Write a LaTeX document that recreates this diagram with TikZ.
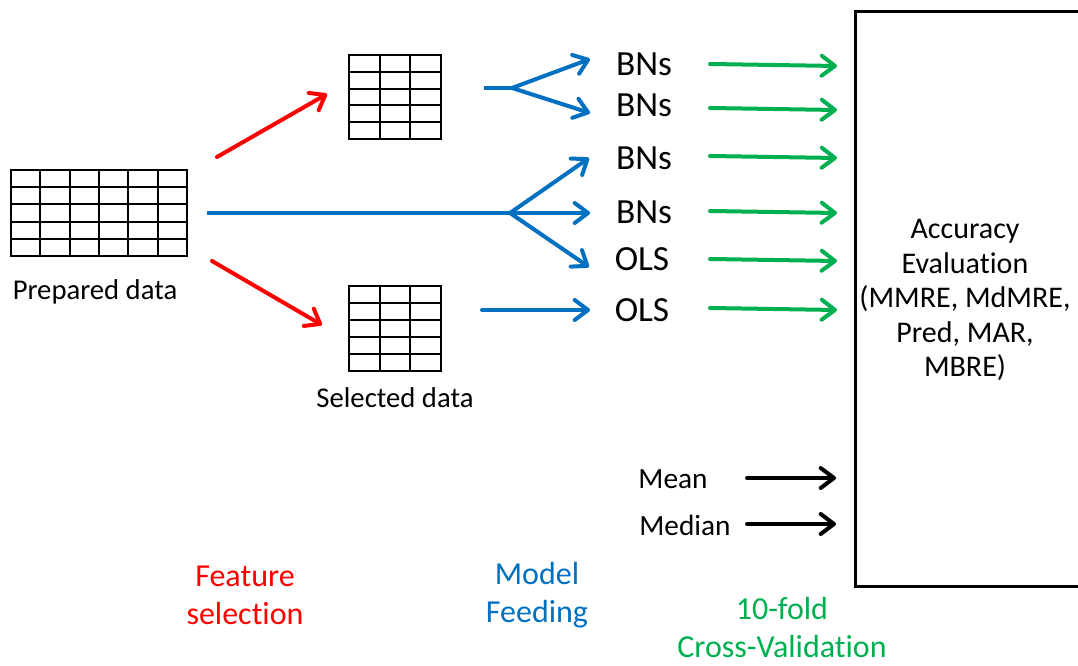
\documentclass[tikz,border=0pt]{standalone}
\usepackage{fontspec}
\setmainfont{Carlito}[Ligatures=NoCommon]
\usetikzlibrary{arrows.meta,calc}
\definecolor{fsred}{RGB}{255,0,0}
\definecolor{mfblue}{RGB}{0,112,192}
\definecolor{cvgreen}{RGB}{0,176,80}

% data tables: outline node plus inner grid lines
\newcommand{\gridlines}[3]{%
  \foreach \i in {1,...,\numexpr#2-1\relax}
    \draw[line width=1.5pt] ($(#1.north west)!\i/#2!(#1.north east)$) -- ($(#1.south west)!\i/#2!(#1.south east)$);
  \foreach \j in {1,...,\numexpr#3-1\relax}
    \draw[line width=1.5pt] ($(#1.north west)!\j/#3!(#1.south west)$) -- ($(#1.north east)!\j/#3!(#1.south east)$);
}

\begin{document}
\begin{tikzpicture}[x=0.75pt,y=-0.75pt,
  tbl/.style={draw, line width=1.5pt, inner sep=0pt, outer sep=0pt},
  flow/.style={line width=3pt, line cap=round, line join=round,
    -{Straight Barb[length=10pt,width=15pt,round]}},
  feat/.style={flow, color=fsred},
  feed/.style={flow, color=mfblue},
  feedline/.style={line width=3pt, color=mfblue},
  cv/.style={flow, color=cvgreen},
  stat/.style={flow, color=black},
  model/.style={font=\fontsize{26.5}{30}\selectfont, inner sep=0pt},
  caption/.style={font=\fontsize{21.5}{26}\selectfont, inner sep=0pt},
  phase/.style={font=\fontsize{24}{28.5}\selectfont, align=center, inner sep=0pt},
  statlbl/.style={font=\fontsize{22}{26}\selectfont, inner sep=0pt},
]
\useasboundingbox (0,0) rectangle (1078,666);

\node[tbl, minimum width=132pt, minimum height=64pt] (prep) at (99,213) {};
\gridlines{prep}{6}{5}
\node[tbl, minimum width=69pt, minimum height=63pt] (seltop) at (395,97) {};
\gridlines{seltop}{3}{5}
\node[tbl, minimum width=69pt, minimum height=64pt] (selbot) at (395,328.5) {};
\gridlines{selbot}{3}{5}

\node[caption] (preplbl) at (95,292) {Prepared data};
\node[caption] (sellbl) at (395,398) {Selected data};

% feature selection
\coordinate (fsA0) at (217,157);
\coordinate (fsA1) at (327,94);
\coordinate (fsB0) at (212,261);
\coordinate (fsB1) at (322,325);
\draw[feat] (fsA0) -- (fsA1);
\draw[feat] (fsB0) -- (fsB1);

% models
\node[model] (bn1) at (644,64) {BNs};
\node[model] (bn2) at (644,105) {BNs};
\node[model] (bn3) at (644,158) {BNs};
\node[model] (bn4) at (644,212) {BNs};
\node[model] (ols1) at (642,259) {OLS};
\node[model] (ols2) at (642,310) {OLS};

% model feeding
\coordinate (ftop0) at (484,88);
\coordinate (ftop) at (512,88);
\coordinate (t1) at (590,59);
\coordinate (t2) at (590,113);
\draw[feedline] (ftop0) -- (ftop);
\draw[feed] (ftop) -- (t1);
\draw[feed] (ftop) -- (t2);

\coordinate (fmid0) at (207,213);
\coordinate (fmid) at (510,213);
\coordinate (t3) at (589,158);
\coordinate (t4) at (590,213);
\coordinate (t5) at (589,267);
\draw[feedline] (fmid0) -- (fmid);
\draw[feed] (fmid) -- (t3);
\draw[feed] (fmid) -- (t4);
\draw[feed] (fmid) -- (t5);

\coordinate (fbot0) at (482,310);
\coordinate (t6) at (590,310);
\draw[feed] (fbot0) -- (t6);

% evaluation box (right side runs off the page edge)
\node[font=\fontsize{22.5}{25.9}\selectfont, align=center, inner sep=0pt] (eval) at (965,300)
  {Accuracy\\Evaluation\\(MMRE, MdMRE,\\Pred, MAR,\\MBRE)};
\draw[line width=2.25pt] (1078,12) -| (855,586) -- (1078,586);

% cross-validation results
\foreach \y in {66,110,158,213,261,310}
  \draw[cv] (710,\y-2) -- (837,\y);

% aggregated statistics
\node[statlbl] (mean) at (673,479) {Mean};
\node[statlbl] (median) at (685,525) {Median};
\coordinate (m0) at (747,478);
\coordinate (m1) at (836,478);
\coordinate (d0) at (747,524);
\coordinate (d1) at (836,524);
\draw[stat] (m0) -- (m1);
\draw[stat] (d0) -- (d1);

% phase labels
\node[phase, text=fsred] (fsl) at (245,595) {Feature\\selection};
\node[phase, text=mfblue] (mfl) at (537,595) {Model\\Feeding};
\node[phase, text=cvgreen] (cvl) at (782,628) {10-fold\\Cross-Validation};
\end{tikzpicture}
\end{document}
